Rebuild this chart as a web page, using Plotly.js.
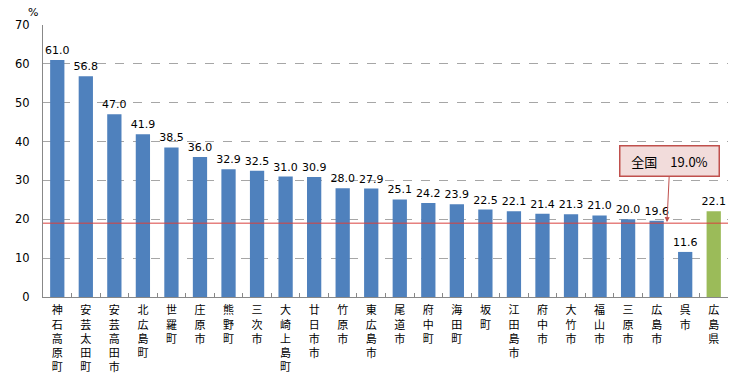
<!DOCTYPE html>
<html><head><meta charset="utf-8">
<script src="https://cdn.plot.ly/plotly-3.0.1.min.js"></script>
<style>html,body{margin:0;padding:0;background:#fff}#c{width:756px;height:379px}</style>
</head><body><div id="c"></div>
<script>
const categories = ["神石高原町","安芸太田町","安芸高田市","北広島町","世羅町","庄原市","熊野町","三次市","大崎上島町","廿日市市","竹原市","東広島市","尾道市","府中町","海田町","坂町","江田島市","府中市","大竹市","福山市","三原市","広島市","呉市","広島県"];
const values = [61.0,56.8,47.0,41.9,38.5,36.0,32.9,32.5,31.0,30.9,28.0,27.9,25.1,24.2,23.9,22.5,22.1,21.4,21.3,21.0,20.0,19.6,11.6,22.1];
const nationalValue = 19.0;
const nationalLabel = "全国　19.0%";
const yTicks = [0,10,20,30,40,50,60,70];

const colors = categories.map(c => c === "広島県" ? "#9bbb59" : "#4f81bd");
const ticktext = categories.map(c => c.split("").join("<br>"));
const fontJP = '"Noto Sans CJK JP", "DejaVu Sans", sans-serif';

const trace = {
  type: "bar", x: categories, y: values,
  marker: {color: colors},
  text: values.map(v => v.toFixed(1)),
  textposition: "outside",
  textfont: {family: "DejaVu Sans, sans-serif", size: 11, color: "#000"},
  cliponaxis: false,
  constraintext: "none",
  hoverinfo: "none"
};

const layout = {
  width: 756, height: 379,
  margin: {l: 43, r: 28, t: 25, b: 82},
  paper_bgcolor: "#fff", plot_bgcolor: "#fff",
  showlegend: false,
  bargap: 0.5,
  xaxis: {
    type: "category",
    tickvals: categories, ticktext: ticktext,
    tickfont: {family: fontJP, size: 11, color: "#000"},
    ticks: "inside", tickson: "boundaries", ticklen: 4, tickcolor: "#888",
    ticklabelstandoff: 3,
    showline: true, linecolor: "#888", linewidth: 1,
    showgrid: false, tickangle: 0, automargin: false
  },
  yaxis: {
    range: [0, 70], tickvals: yTicks,
    tickfont: {family: "DejaVu Sans, sans-serif", size: 11.5, color: "#000"},
    ticks: "", ticklabelstandoff: 10,
    showline: true, linecolor: "#888", linewidth: 1,
    showgrid: true, gridcolor: "#a6a6a6", griddash: "dash", gridwidth: 1,
    zeroline: false, automargin: false
  },
  shapes: [{
    type: "line", xref: "paper", x0: 0, x1: 1, yref: "y", y0: nationalValue, y1: nationalValue,
    line: {color: "#d9413e", width: 1}
  }],
  annotations: [
    {xref: "paper", yref: "paper", x: -0.004, y: 1.045, xanchor: "right", yanchor: "middle",
     text: "%", showarrow: false, font: {family: "DejaVu Sans, sans-serif", size: 11, color: "#000"}},
    {xref: "x", yref: "y", x: 21.36, y: nationalValue, text: nationalLabel,
     showarrow: true, arrowhead: 2, arrowsize: 1, arrowwidth: 1, arrowcolor: "#c0504d",
     ax: 3, ay: -62, standoff: 1,
     bgcolor: "#f2dcdb", bordercolor: "#c0504d", borderwidth: 1.5, borderpad: 5,
     width: 88,
     font: {family: fontJP, size: 13, color: "#000"}}
  ]
};

Plotly.newPlot("c", [trace], layout, {staticPlot: true, displayModeBar: false});
</script>
</body></html>
